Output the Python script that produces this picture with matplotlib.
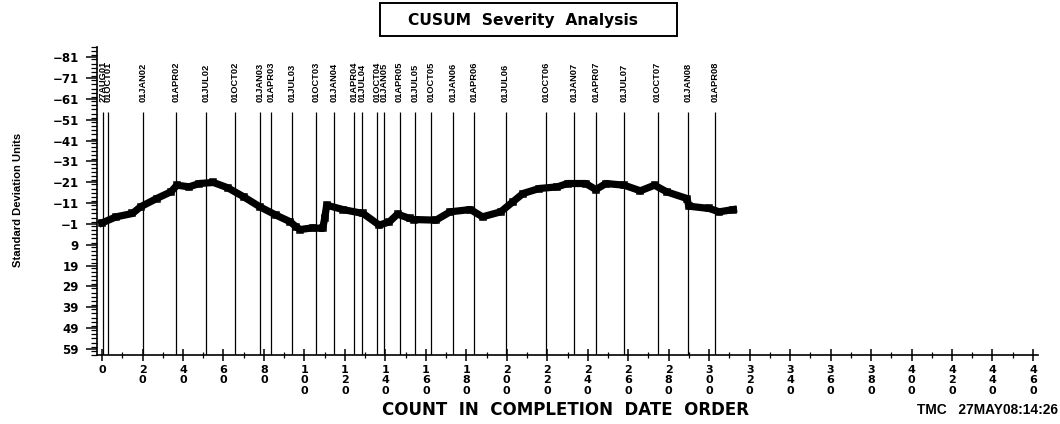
"""
CUSUM Severity Analysis chart

Redraws the SAS style CUSUM chart: cumulative sum in standard deviation
units against the count in completion date order, with a vertical line
and a label for every quarter.

Usage:
python plot.py
"""

import matplotlib
matplotlib.use('Agg')
import matplotlib.pyplot as plt
from matplotlib import font_manager
from matplotlib.patches import Rectangle
from matplotlib.ticker import FixedLocator, MultipleLocator

# CUSUM trace
counts = [0, 7, 15, 19, 27, 34, 37, 43, 48, 55, 62, 70, 78, 86, 93, 96,
          98, 104, 109, 110, 111, 119, 129, 137, 142, 146, 152, 154, 165,
          172, 182, 188, 197, 203, 208, 216, 225, 230, 239, 244, 249, 258,
          266, 273, 279, 289, 290, 300, 305, 312]
cusum = [-1.5, -4.4, -6.0, -9.2, -13.2, -16.4, -19.6, -18.8, -20.4, -20.9,
         -18.4, -14.0, -9.2, -5.2, -2.0, 0.5, 1.7, 0.9, 1.2, -3.6, -10.0,
         -7.9, -6.0, -0.4, -2.0, -5.7, -3.6, -3.1, -2.8, -6.8, -7.9, -4.4,
         -6.8, -11.6, -15.6, -18.0, -18.8, -20.4, -20.4, -17.5, -20.4,
         -19.6, -16.9, -19.6, -16.4, -13.2, -9.5, -8.4, -6.8, -7.9]

# quarter reference lines (position in count order)
date_labels = ['27AUG01', '01OCT01', '01JAN02', '01APR02', '01JUL02',
               '01OCT02', '01JAN03', '01APR03', '01JUL03', '01OCT03',
               '01JAN04', '01APR04', '01JUL04', '01OCT04', '01JAN05',
               '01APR05', '01JUL05', '01OCT05', '01JAN06', '01APR06',
               '01JUL06', '01OCT06', '01JAN07', '01APR07', '01JUL07',
               '01OCT07', '01JAN08', '01APR08']
date_counts = [0.6, 3.1, 20.4, 36.6, 51.4, 65.7, 78.0, 83.5, 93.7, 105.9,
               114.8, 124.7, 128.4, 135.8, 139.4, 147.0, 154.7, 162.4,
               173.3, 183.9, 199.4, 219.2, 233.2, 243.9, 258.0, 274.5,
               289.6, 302.8]

y_ticks = [-81, -71, -61, -51, -41, -31, -21, -11, -1, 9, 19, 29, 39, 49, 59]
x_ticks = list(range(0, 461, 20))

title = 'CUSUM  Severity  Analysis'
x_title = 'COUNT  IN  COMPLETION  DATE  ORDER'
y_title = 'Standard Deviation Units'
stamp = 'TMC   27MAY08:14:26'


def pick_narrow_font():
    """Use a narrow face for the condensed SAS labels when one is installed."""
    names = {f.name for f in font_manager.fontManager.ttflist}
    if 'Liberation Sans Narrow' in names:
        return 'Liberation Sans Narrow', 1.0
    return 'Liberation Sans', 0.9


def main():
    narrow, scale = pick_narrow_font()

    fig = plt.figure(figsize=(10.6, 4.24), dpi=100)
    ax = fig.add_axes([97 / 1060, 69 / 424, 941 / 1060, 308 / 424])

    # quarter lines and their labels
    ax.vlines(date_counts, -54.6, 62, colors='black', linewidth=0.9)
    for x, lab in zip(date_counts, date_labels):
        ax.text(x, -59.5, lab, rotation=90, ha='center', va='bottom',
                family=narrow, fontweight='bold', fontsize=7.4 * scale)

    # the CUSUM trace, open squares packed into a thick band
    ax.plot(counts, cusum, color='black', linewidth=5.2, marker='s',
            markersize=5, markerfacecolor='none', markeredgewidth=1.1,
            solid_joinstyle='round')

    ax.set_xlim(-2.5, 462.5)
    ax.set_ylim(62, -86)

    ax.spines['top'].set_visible(False)
    ax.spines['right'].set_visible(False)
    ax.spines['left'].set_linewidth(1.2)
    ax.spines['bottom'].set_linewidth(1.2)

    ax.yaxis.set_major_locator(FixedLocator(y_ticks))
    ax.yaxis.set_minor_locator(MultipleLocator(2))
    ax.set_yticklabels([str(v).replace('-', '\u2212') for v in y_ticks],
                       fontweight='bold', fontsize=8.5)
    ax.tick_params(axis='y', which='major', direction='out', length=8,
                   width=1.1, pad=5)
    ax.tick_params(axis='y', which='minor', direction='out', length=4,
                   width=0.9)

    ax.xaxis.set_major_locator(FixedLocator(x_ticks))
    ax.xaxis.set_minor_locator(MultipleLocator(10))
    ax.set_xticklabels(['\n'.join(str(v)) for v in x_ticks],
                       fontweight='bold', fontsize=8, linespacing=1.05,
                       va='top')
    ax.tick_params(axis='x', which='major', direction='inout', length=8,
                   width=1.1, pad=3)
    ax.tick_params(axis='x', which='minor', direction='inout', length=4,
                   width=0.9)

    # titles
    fig.patches.append(Rectangle((380 / 1060, 1 - 36 / 424), 297 / 1060,
                                 33 / 424, transform=fig.transFigure,
                                 fill=False, edgecolor='black',
                                 linewidth=1.4))
    fig.text(523 / 1060, 1 - 20 / 424, title, ha='center', va='center',
             fontweight='bold', fontsize=11.2)
    fig.text(566 / 1060, 1 - 410 / 424, x_title, ha='center',
             va='center', fontweight='bold', fontsize=12)
    fig.text(1058 / 1060, 1 - 410 / 424, stamp, ha='right', va='center',
             family=narrow, fontweight='bold', fontsize=11 * scale)
    fig.text(18 / 1060, 1 - 200 / 424, y_title, rotation=90, ha='center',
             va='center', family=narrow, fontweight='bold',
             fontsize=9 * scale)

    fig.savefig('out.png', dpi=100)
    print("Chart saved as 'out.png'")


if __name__ == "__main__":
    main()
